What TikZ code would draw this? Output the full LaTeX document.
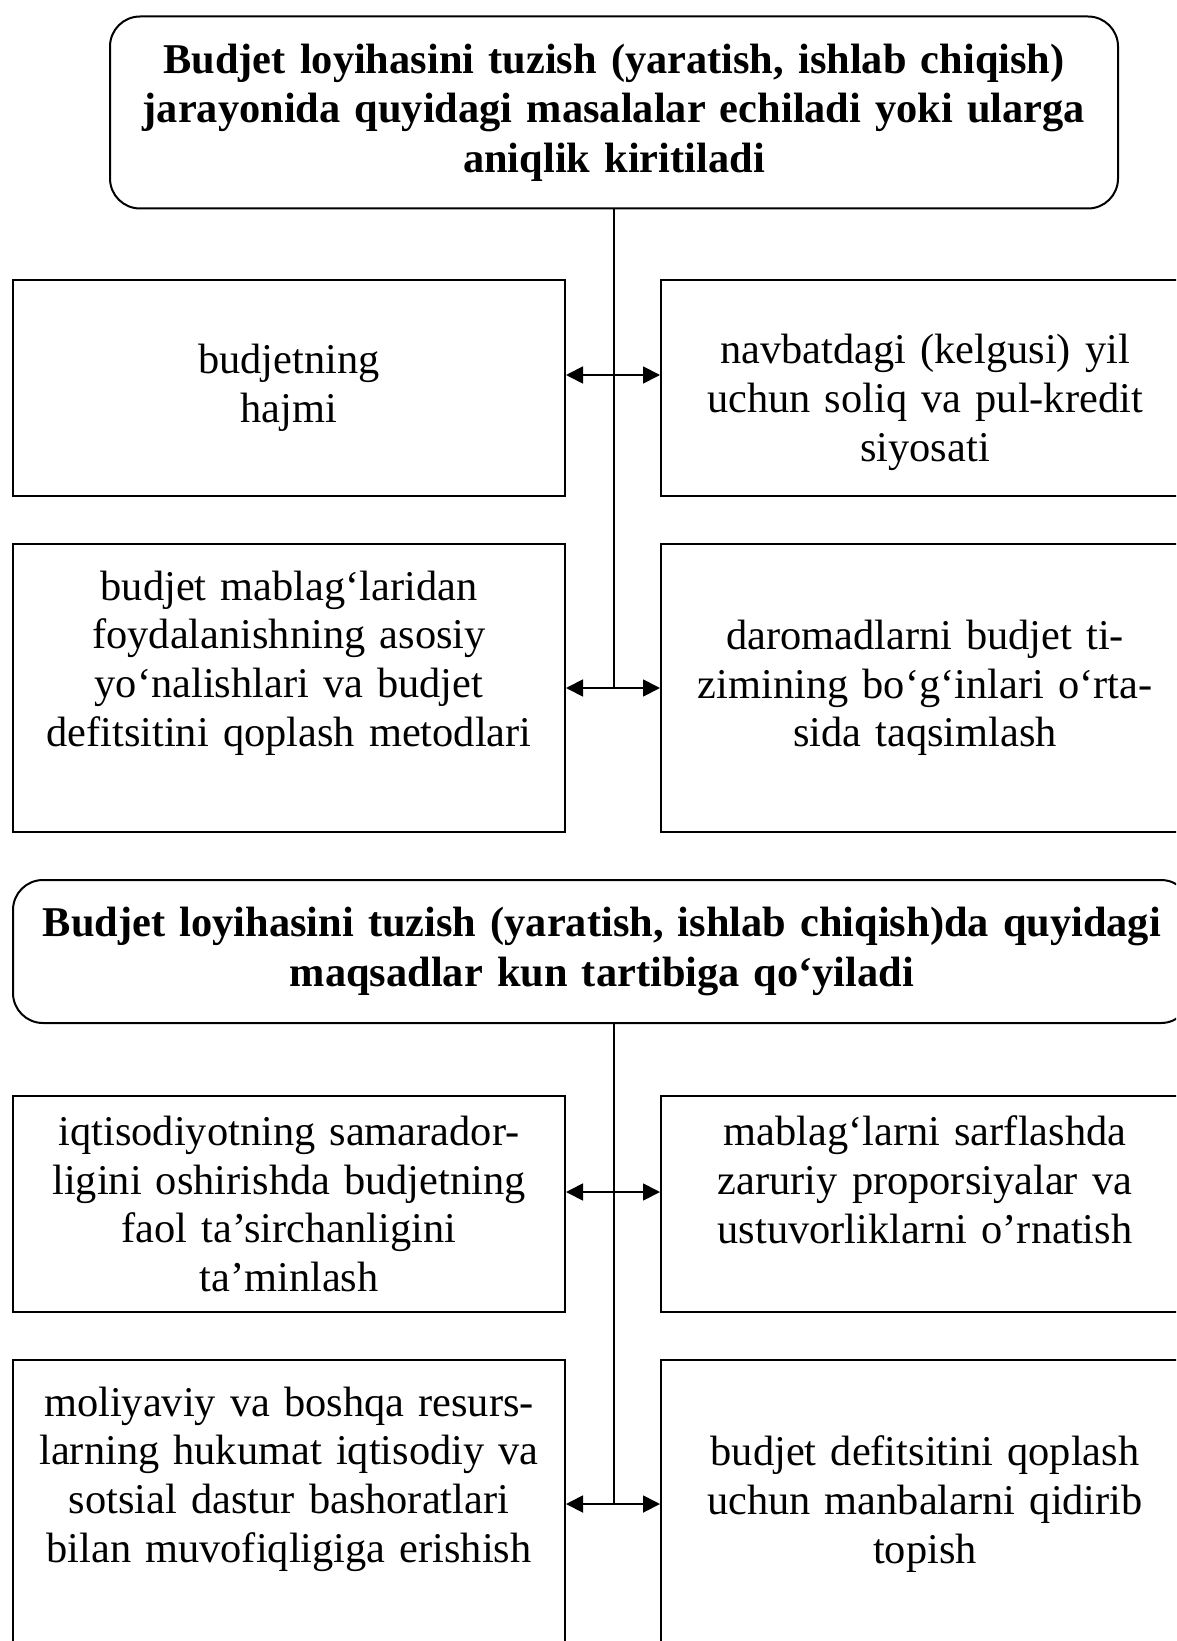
\documentclass[tikz,border=0pt]{standalone}
\usepackage{fontspec}
\setmainfont{Liberation Serif}
\usetikzlibrary{arrows.meta,calc}

\begin{document}
\begin{tikzpicture}[x=0.5pt,y=-0.5pt,
    every node/.style={font=\fontsize{21.2}{24.4}\selectfont},
    head/.style={draw, line width=1pt, rounded corners=15pt, align=center, inner sep=0pt,
        font=\fontsize{21.2}{24.8}\selectfont\bfseries},
    lbox/.style={draw, line width=1pt, align=center, inner sep=0pt, text width=276pt},
    rbox/.style={draw, line width=1pt, align=center, inner sep=0pt, text width=264pt},
    link/.style={line width=0.9pt},
    both/.style={link, {Triangle[length=8.5pt,width=8.5pt]}-{Triangle[length=8.5pt,width=8.5pt]}}
]
\clip (0,0) rectangle (1176,1641);

% first block
\node[head, text width=504pt, minimum height=96pt] (top) at (614,112.5)
    {Budjet loyihasini tuzish (yaratish, ishlab chiqish)\\ jarayonida quyidagi masalalar echiladi yoki ularga\\ aniqlik kiritiladi};
\node[lbox, minimum height=108pt] (vol) at (289,388) {budjetning\\ hajmi};
\node[rbox, minimum height=108pt] (pol) at (925,388)
    {\mbox{}\\[4.6pt]navbatdagi (kelgusi) yil\\ uchun soliq va pul-kredit\\ siyosati};
\node[lbox, minimum height=144pt] (dir) at (289,688)
    {budjet mablag‘laridan\\ foydalanishning asosiy\\ yo‘nalishlari va budjet\\ defitsitini qoplash metodlari\\[5pt]~};
\node[rbox, minimum height=144pt] (inc) at (925,688)
    {daromadlarni budjet ti-\\ zimining bo‘g‘inlari o‘rta-\\ sida taqsimlash};

\draw[link] (top.south) -- (top.south |- dir.east);
\draw[both] ([yshift=6.5pt]vol.east) -- ([yshift=6.5pt]pol.west);
\draw[both] (dir.east) -- (inc.west);

% second block
\node[head, text width=589pt, minimum height=71.5pt] (mid) at (602,951.5)
    {Budjet loyihasini tuzish (yaratish, ishlab chiqish)da quyidagi\\ maqsadlar kun tartibiga qo‘yiladi};
\node[lbox, minimum height=108pt] (eff) at (289,1204)
    {iqtisodiyotning samarador-\\ ligini oshirishda budjetning\\ faol ta’sirchanligini\\ ta’minlash};
\node[rbox, minimum height=108pt] (prop) at (925,1204)
    {mablag‘larni sarflashda\\ zaruriy proporsiyalar va\\ ustuvorliklarni o’rnatish\\~};
\node[lbox, minimum height=144pt] (res) at (289,1504)
    {moliyaviy va boshqa resurs-\\ larning hukumat iqtisodiy va\\ sotsial dastur bashoratlari\\ bilan muvofiqligiga erishish\\[5pt]~};
\node[rbox, minimum height=144pt] (def) at (925,1504)
    {budjet defitsitini qoplash\\ uchun manbalarni qidirib\\ topish};

\draw[link] (top.south |- mid.south) -- (top.south |- res.east);
\draw[both] ([yshift=6pt]eff.east) -- ([yshift=6pt]prop.west);
\draw[both] (res.east) -- (def.west);
\end{tikzpicture}
\end{document}
